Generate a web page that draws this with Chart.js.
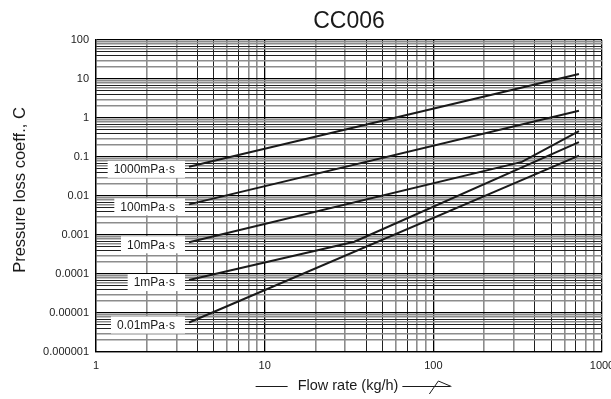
<!DOCTYPE html>
<html lang="en">

<head>
  <meta charset="UTF-8" />
  <title>CC006 - Pressure loss coefficient</title>
  <script src="https://cdn.jsdelivr.net/npm/chart.js"></script>
  <style>
    body {
      margin: 0;
      background: #fff;
    }
  </style>
</head>

<body>
  <canvas id="chartCC006" width="611" height="399"></canvas>

  <script>
    // tick labels
    const xTickLabels = ['1', '10', '100', '1000'];
    const yTickLabels = ['0.000001', '0.00001', '0.0001', '0.001', '0.01', '0.1', '1', '10', '100'];

    // viscosity curves (flow rate kg/h -> coefficient C)
    const seriesNames = ['1000mPa·s', '100mPa·s', '10mPa·s', '1mPa·s', '0.01mPa·s'];
    const flow1000 = [3.56, 730];
    const coef1000 = [0.056, 13.4];
    const flow100 = [3.56, 730];
    const coef100 = [0.0061, 1.54];
    const flow10 = [3.56, 335, 730];
    const coef10 = [0.00065, 0.075, 0.46];
    const flow1 = [3.56, 34, 730];
    const coef1 = [0.00007, 0.00067, 0.24];
    const flow001 = [3.56, 730];
    const coef001 = [0.0000057, 0.108];

    const flows = [flow1000, flow100, flow10, flow1, flow001];
    const coefs = [coef1000, coef100, coef10, coef1, coef001];

    const font = 'Arial, "Liberation Sans", sans-serif';

    function logTicks(minExp, maxExp) {
      const list = [];
      for (let e = minExp; e < maxExp; e++) {
        for (let m = 1; m <= 9; m++) {
          list.push({ value: Number((m * Math.pow(10, e)).toPrecision(3)) });
        }
      }
      list.push({ value: Math.pow(10, maxExp) });
      return list;
    }

    function mantissa(v) {
      const e = Math.floor(Math.log10(v) + 1e-9);
      return Math.round(v / Math.pow(10, e));
    }

    // grid look: decades black, minors mixed like the printed chart
    function gridColor(ctx) {
      const m = mantissa(ctx.tick.value);
      if (m === 1) return '#000';
      if (m === 4 || m === 5 || m === 7) return '#222';
      return '#8c8c8c';
    }

    function gridWidth(ctx) {
      const m = mantissa(ctx.tick.value);
      if (m === 1) return 1.3;
      return m === 4 || m === 5 || m === 7 ? 1 : 1.6;
    }

    const labelBoxes = {
      id: 'labelBoxes',
      afterDatasetsDraw(chart) {
        const c = chart.ctx;
        const xs = chart.scales.x;
        const ys = chart.scales.y;
        c.save();
        c.font = '12px ' + font;
        c.textBaseline = 'middle';
        seriesNames.forEach((name, i) => {
          const px = xs.getPixelForValue(flows[i][0]);
          const py = ys.getPixelForValue(coefs[i][0]);
          const w = c.measureText(name).width;
          const right = px - 4;
          const textRight = right - 10;
          const left = textRight - w - 6;
          c.fillStyle = '#fff';
          c.fillRect(left, py - 6, right - left, 17);
          c.fillStyle = '#1a1a1a';
          c.textAlign = 'right';
          c.fillText(name, textRight, py + 3);
        });
        c.restore();
      }
    };

    const titles = {
      id: 'titles',
      afterDraw(chart) {
        const c = chart.ctx;
        const area = chart.chartArea;
        c.save();
        c.fillStyle = '#1a1a1a';
        c.strokeStyle = '#1a1a1a';
        c.textAlign = 'center';
        c.textBaseline = 'middle';

        c.font = '23px ' + font;
        c.fillText('CC006', (area.left + area.right) / 2, 22);

        c.save();
        c.translate(20, 190);
        c.rotate(-Math.PI / 2);
        c.font = '16.5px ' + font;
        c.fillText('Pressure loss coeff., C', 0, 0);
        c.restore();

        const cx = (area.left + area.right) / 2 - 1;
        const cy = 386;
        c.font = '14.5px ' + font;
        c.fillText('Flow rate (kg/h)', cx, cy);
        const half = c.measureText('Flow rate (kg/h)').width / 2;
        c.lineWidth = 1;
        c.beginPath();
        c.moveTo(cx - half - 42, cy + 0.5);
        c.lineTo(cx - half - 10, cy + 0.5);
        c.moveTo(cx + half + 4, cy + 0.5);
        c.lineTo(cx + half + 52, cy + 0.5);
        c.moveTo(cx + half + 31, cy + 8);
        c.lineTo(cx + half + 40, cy - 5);
        c.lineTo(cx + half + 53, cy + 0.5);
        c.stroke();
        c.restore();
      }
    };

    const ctx = document.getElementById('chartCC006').getContext('2d');
    new Chart(ctx, {
      type: 'line',
      data: {
        datasets: seriesNames.map((name, i) => ({
          label: name,
          data: flows[i].map((f, j) => ({ x: f, y: coefs[i][j] })),
          borderColor: '#1a1a1a',
          borderWidth: 2,
          pointRadius: 0,
          tension: 0,
          fill: false
        }))
      },
      options: {
        responsive: false,
        animation: false,
        devicePixelRatio: 1,
        layout: { padding: { left: 0, top: 40, right: 9, bottom: 0 } },
        plugins: {
          legend: { display: false },
          tooltip: { enabled: false }
        },
        scales: {
          x: {
            type: 'logarithmic',
            min: 1,
            max: 1000,
            afterBuildTicks: s => { s.ticks = logTicks(0, 3); },
            afterFit: s => { s.height = 47; s.paddingLeft = 0; s.paddingRight = 0; },
            ticks: {
              autoSkip: false,
              maxRotation: 0,
              padding: 7,
              color: '#222',
              font: { family: font, size: 11 },
              callback: v => mantissa(v) === 1 ? xTickLabels[Math.round(Math.log10(v))] : ''
            },
            grid: { color: gridColor, lineWidth: gridWidth, drawTicks: false },
            border: { color: '#000', width: 1.3 }
          },
          y: {
            type: 'logarithmic',
            min: 0.000001,
            max: 100,
            afterBuildTicks: s => { s.ticks = logTicks(-6, 2); },
            afterFit: s => { s.width = 96; s.paddingTop = 0; s.paddingBottom = 0; },
            ticks: {
              autoSkip: false,
              padding: 7,
              color: '#222',
              font: { family: font, size: 11 },
              callback: v => mantissa(v) === 1 ? yTickLabels[Math.round(Math.log10(v)) + 6] : ''
            },
            grid: { color: gridColor, lineWidth: gridWidth, drawTicks: false },
            border: { color: '#000', width: 1.3 }
          }
        }
      },
      plugins: [labelBoxes, titles]
    });
  </script>
</body>

</html>
